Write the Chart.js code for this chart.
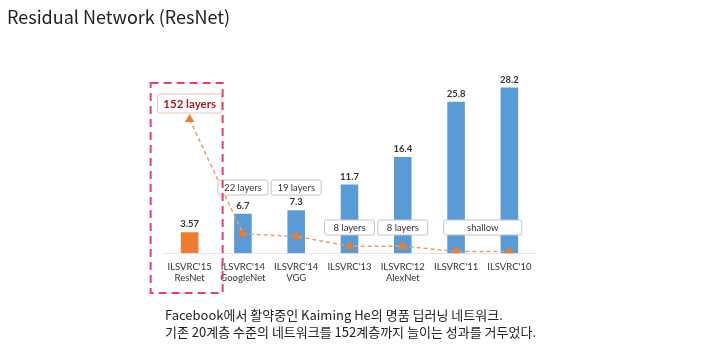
<!DOCTYPE html>
<html>
<head>
<meta charset="utf-8">
<script src="https://cdn.jsdelivr.net/npm/chart.js@4"></script>
<style>
  body { margin: 0; background: #fff; }
  #wrap { position: relative; width: 703px; height: 358px; overflow: hidden; }
  #title { position: absolute; left: 7px; top: 3px; font: 18px "Noto Sans CJK KR", sans-serif; color: #222; }
  .cap { position: absolute; left: 165px; font: 13px "Noto Sans CJK KR", sans-serif; color: #222; white-space: nowrap; }
  canvas { position: absolute; left: 0; top: 0; }
</style>
</head>
<body>
<div id="wrap">
  <canvas id="resChart" width="703" height="358"></canvas>
  <div id="title">Residual Network (ResNet)</div>
  <div class="cap" style="top:305px">Facebook에서 활약중인 Kaiming He의 명품 딥러닝 네트워크.</div>
  <div class="cap" style="top:322px">기존 20계층 수준의 네트워크를 152계층까지 늘이는 성과를 거두었다.</div>
</div>
<script>
// data
const categories = [["ILSVRC'15", "ResNet"], ["ILSVRC'14", "GoogleNet"], ["ILSVRC'14", "VGG"],
  ["ILSVRC'13"], ["ILSVRC'12", "AlexNet"], ["ILSVRC'11"], ["ILSVRC'10"]];
const errorRates = [3.57, 6.7, 7.3, 11.7, 16.4, 25.8, 28.2];
const errorText = ["3.57", "6.7", "7.3", "11.7", "16.4", "25.8", "28.2"];
const layerDepth = [152, 22, 19, 8, 8, 2, 2];
const layerText = ["152 layers", "22 layers", "19 layers", "8 layers", "8 layers", "shallow", ""];
const barColors = ["#ed7d31", "#5b9bd5", "#5b9bd5", "#5b9bd5", "#5b9bd5", "#5b9bd5", "#5b9bd5"];

const FONT = "Lato, 'Noto Sans', sans-serif";

function roundBox(ctx, x, y, w, h, stroke) {
  ctx.beginPath();
  ctx.roundRect(x, y, w, h, 2);
  ctx.fillStyle = "#fff";
  ctx.fill();
  ctx.lineWidth = 1;
  ctx.strokeStyle = stroke;
  ctx.stroke();
}

//! labels, boxes, highlight >>
const extras = {
  id: "extras",
  afterDatasetsDraw(chart) {
    const ctx = chart.ctx;
    const xs = chart.scales.x;
    const bars = chart.getDatasetMeta(1).data;
    ctx.save();

    // values above bars
    ctx.font = "bold 9.5px " + FONT;
    ctx.fillStyle = "#333";
    ctx.textAlign = "center";
    ctx.textBaseline = "middle";
    bars.forEach((b, i) => ctx.fillText(errorText[i], b.x, b.y - 8));

    // layer boxes
    const step = xs.getPixelForValue(1) - xs.getPixelForValue(0);
    ctx.font = "9.5px " + FONT;
    layerText.forEach((t, i) => {
      if (!t || i === 0) return;
      const cx = xs.getPixelForValue(i);
      let w = 50, top = i < 3 ? 180 : 220, mid = cx;
      if (t === "shallow") { mid = cx + step / 2; w = 78; }
      roundBox(ctx, mid - w / 2, top, w, 15, "#c4c4c4");
      ctx.fillStyle = "#333";
      ctx.fillText(t, mid, top + 8);
    });

    // 152 layers box
    const c0 = xs.getPixelForValue(0);
    roundBox(ctx, c0 - 32, 94, 64, 19, "#e3c7b4");
    ctx.font = "bold 11.5px " + FONT;
    ctx.fillStyle = "#a51d24";
    ctx.fillText(layerText[0], c0, 104);

    // dashed highlight around ResNet
    ctx.setLineDash([8, 5]);
    ctx.lineWidth = 2;
    ctx.strokeStyle = "#e8406a";
    ctx.strokeRect(c0 - 39, 83, 72, 210);
    ctx.restore();
  }
};

new Chart("resChart", {
  data: {
    labels: categories,
    datasets: [{
      type: "line",
      data: layerDepth,
      yAxisID: "y2",
      borderColor: "#e9a066",
      borderWidth: 1.5,
      borderDash: [4, 3],
      pointStyle: "triangle",
      pointRadius: 4,
      pointBackgroundColor: "#ed7d31",
      pointBorderColor: "#ed7d31",
      order: 0
    }, {
      type: "bar",
      data: errorRates,
      backgroundColor: barColors,
      barPercentage: 0.33,
      categoryPercentage: 1,
      order: 1
    }]
  },
  options: {
    responsive: false,
    animation: false,
    layout: { padding: { left: 163, right: 167, top: 77, bottom: 74 } },
    plugins: { legend: { display: false }, tooltip: { enabled: false } },
    scales: {
      x: {
        grid: { display: false },
        border: { color: "#e6e6e6", width: 1 },
        ticks: { color: "#333", font: { family: FONT, size: 9.5, lineHeight: 1.2 }, padding: 0, maxRotation: 0, autoSkip: false }
      },
      y: { display: false, min: 0, max: 30 },
      y2: { display: false, min: 0, max: 200 }
    }
  },
  plugins: [extras]
});
</script>
</body>
</html>
